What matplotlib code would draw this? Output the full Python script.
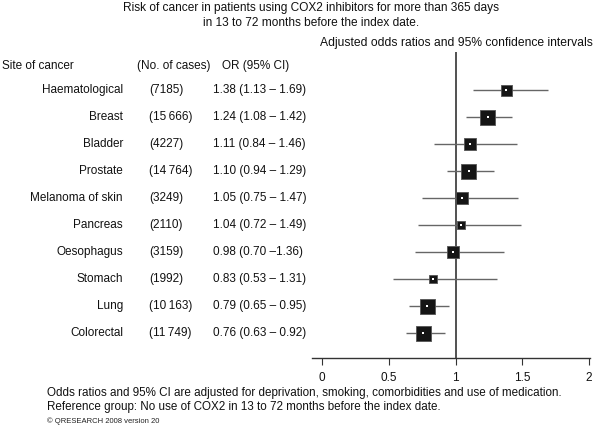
import matplotlib
matplotlib.use("Agg")
import matplotlib.pyplot as plt
import matplotlib.transforms as mtransforms

plt.rcParams['font.family'] = ['Liberation Sans', 'DejaVu Sans']

sites = ['Haematological', 'Breast', 'Bladder', 'Prostate', 'Melanoma of skin',
         'Pancreas', 'Oesophagus', 'Stomach', 'Lung', 'Colorectal']
cases = ['(7185)', '(15\u2009666)', '(4227)', '(14\u2009764)', '(3249)',
         '(2110)', '(3159)', '(1992)', '(10\u2009163)', '(11\u2009749)']
odds = [1.38, 1.24, 1.11, 1.10, 1.05, 1.04, 0.98, 0.83, 0.79, 0.76]
lower = [1.13, 1.08, 0.84, 0.94, 0.75, 0.72, 0.70, 0.53, 0.65, 0.63]
upper = [1.69, 1.42, 1.46, 1.29, 1.47, 1.49, 1.36, 1.31, 0.95, 0.92]
or_text = ['1.38 (1.13 \u2013 1.69)', '1.24 (1.08 \u2013 1.42)', '1.11 (0.84 \u2013 1.46)',
           '1.10 (0.94 \u2013 1.29)', '1.05 (0.75 \u2013 1.47)', '1.04 (0.72 \u2013 1.49)',
           '0.98 (0.70 \u20131.36)', '0.83 (0.53 \u2013 1.31)', '0.79 (0.65 \u2013 0.95)',
           '0.76 (0.63 \u2013 0.92)']
# box side in pixels (study weight)
box_px = [11, 15, 12, 15, 12, 8, 12, 8, 15, 15]
xticks = [0, 0.5, 1, 1.5, 2]

W, H = 600, 428
fig = plt.figure(figsize=(W / 100, H / 100), dpi=100)

def fx(x):
    return x / W

def fy(y):
    return 1 - y / H

# axes: pixels 312..590 horizontally, 52..358 vertically
ax = fig.add_axes([fx(312), fy(358), fx(590) - fx(312), fy(52) - fy(358)])
ax.set_xlim(-10 / 133.5, 2 + 1 / 133.5)
ax.set_ylim((358 - 90) / 27, (52 - 90) / 27)

rows = list(range(len(sites)))
ax.axvline(1, color='#333333', lw=1.2, zorder=1)
ax.hlines(rows, lower, upper, color='#666666', lw=1.0, zorder=2)
sizes = [(s * 0.72) ** 2 for s in box_px]
ax.scatter(odds, rows, s=sizes, marker='s', color='#151515', edgecolors='#555555',
           linewidths=0.6, zorder=3)
ax.scatter(odds, rows, s=1.5, marker='s', color='white', linewidths=0, zorder=4)

for sp in ['top', 'left', 'right']:
    ax.spines[sp].set_visible(False)
ax.spines['bottom'].set_color('#333333')
ax.spines['bottom'].set_linewidth(1.0)
ax.set_yticks([])
ax.set_xticks(xticks)
ax.set_xticklabels(['0', '0.5', '1', '1.5', '2'])
ax.tick_params(axis='x', length=5, width=0.8, color='#333333', pad=5,
               labelsize=8.5, labelcolor='#111111')
ax.patch.set_alpha(0)

# left-hand columns, y follows the axes rows
tr = mtransforms.blended_transform_factory(fig.transFigure, ax.transData)
for i in rows:
    ax.text(fx(123), i, sites[i], transform=tr, ha='right', va='center', fontsize=8.5, color='#111111')
    ax.text(fx(149), i, cases[i], transform=tr, ha='left', va='center', fontsize=8.5, color='#111111')
    ax.text(fx(213), i, or_text[i], transform=tr, ha='left', va='center', fontsize=8.5, color='#111111')

fig.text(fx(2), fy(66), 'Site of cancer', ha='left', va='center', fontsize=8.5, color='#111111')
fig.text(fx(137), fy(66), '(No. of cases)', ha='left', va='center', fontsize=8.5, color='#111111')
fig.text(fx(222), fy(66), 'OR (95% CI)', ha='left', va='center', fontsize=8.5, color='#111111')
fig.text(fx(320), fy(43), 'Adjusted odds ratios and 95% confidence intervals',
         ha='left', va='center', fontsize=8.7, color='#111111')

fig.text(fx(311), fy(8), 'Risk of cancer in patients using COX2 inhibitors for more than 365 days',
         ha='center', va='center', fontsize=8.6, color='#111111')
fig.text(fx(311), fy(23), 'in 13 to 72 months before the index date.',
         ha='center', va='center', fontsize=8.6, color='#111111')

fig.text(fx(47), fy(393), 'Odds ratios and 95% CI are adjusted for deprivation, smoking, '
         'comorbidities and use of medication.', ha='left', va='center', fontsize=8.35, color='#111111')
fig.text(fx(47), fy(407), 'Reference group: No use of COX2 in 13 to 72 months before the index date.',
         ha='left', va='center', fontsize=8.35, color='#111111')
fig.text(fx(47), fy(421), '\u00a9 QRESEARCH 2008 version 20', ha='left', va='center',
         fontsize=5.5, color='#222222')

fig.savefig('out.png', dpi=100)
